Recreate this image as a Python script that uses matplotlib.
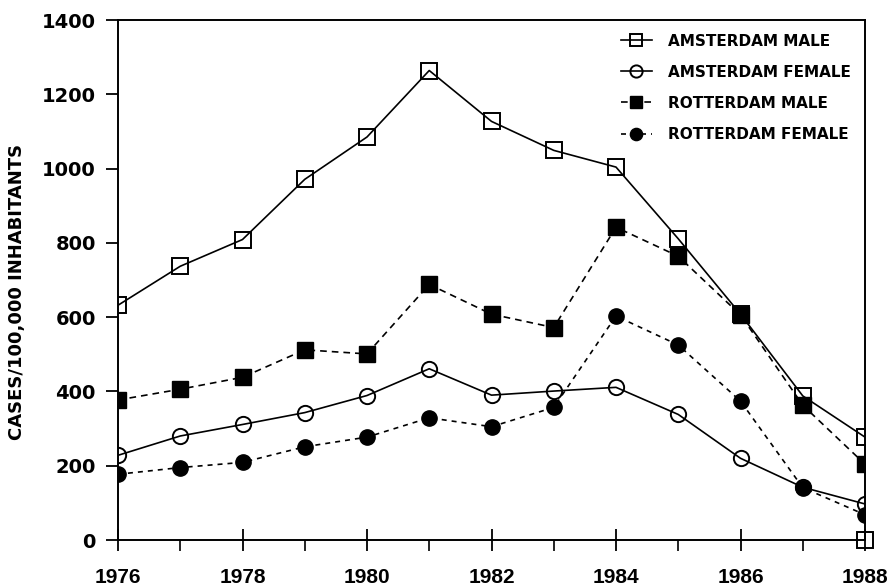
import matplotlib
matplotlib.use("Agg")
import matplotlib.pyplot as plt

years = [1976, 1977, 1978, 1979, 1980, 1981, 1982, 1983, 1984, 1985, 1986, 1987, 1988]
amsterdam_male = [632, 737, 809, 971, 1085, 1264, 1127, 1049, 1004, 811, 608, 388, 277]
amsterdam_female = [228, 280, 311, 343, 389, 461, 390, 401, 411, 338, 220, 142, 97]
rotterdam_male = [377, 406, 438, 512, 501, 688, 608, 572, 842, 764, 606, 363, 204]
rotterdam_female = [177, 195, 209, 251, 277, 329, 305, 357, 603, 525, 374, 141, 68]
stray_x = [1988]
stray_y = [0]

xticks = [1976, 1978, 1980, 1982, 1984, 1986, 1988]
yticks = [0, 200, 400, 600, 800, 1000, 1200, 1400]
ylabel = "CASES/100,000 INHABITANTS"

plt.rcParams['font.family'] = ['DejaVu Sans']
plt.rcParams['font.weight'] = 'bold'

fig = plt.figure(figsize=(8.9, 5.88), dpi=100)
ax = fig.add_axes([118/890, 1-540/588, (865-118)/890, (540-20)/588])

ms = 11
ax.plot(years, amsterdam_male, color='black', lw=1.2, marker='s', ms=ms,
        mfc='none', mec='black', mew=1.4, label='AMSTERDAM MALE', zorder=3)
ax.plot(years, amsterdam_female, color='black', lw=1.2, marker='o', ms=ms,
        mfc='none', mec='black', mew=1.4, label='AMSTERDAM FEMALE', zorder=3)
ax.plot(years, rotterdam_male, color='black', lw=1.2, ls=(0, (4, 3)), marker='s', ms=ms,
        mfc='black', mec='black', label='ROTTERDAM MALE', zorder=4)
ax.plot(years, rotterdam_female, color='black', lw=1.2, ls=(0, (3, 3)), marker='o', ms=ms,
        mfc='black', mec='black', label='ROTTERDAM FEMALE', zorder=4)
ax.plot(stray_x, stray_y, ls='none', marker='s', ms=ms, mfc='none', mec='black',
        mew=1.4, clip_on=False, zorder=5)

ax.set_xlim(1976, 1988)
ax.set_ylim(0, 1400)
ax.set_xticks(xticks)
ax.set_xticks(years, minor=True)
ax.set_yticks(yticks)
ax.tick_params(axis='x', which='major', direction='inout', length=16, width=1.3,
               labelsize=15, pad=12)
ax.tick_params(axis='x', which='minor', direction='out', length=8, width=1.2)
ax.tick_params(axis='y', which='major', direction='out', length=9, width=1.3,
               labelsize=14, pad=7)
for lab in ax.get_xticklabels():
    lab.set_fontweight('bold')
    lab.set_family(['Liberation Sans', 'DejaVu Sans'])
for lab in ax.get_yticklabels():
    lab.set_fontweight('bold')
for s in ax.spines.values():
    s.set_linewidth(1.4)

ax.set_ylabel(ylabel, fontsize=13, fontweight='bold')
ax.yaxis.set_label_coords((26 - 118) / 747, (540 - 292) / 520)

leg = ax.legend(loc='upper right', frameon=False, fontsize=11, handlelength=2.0,
                labelspacing=1.05, borderaxespad=0.5, handletextpad=1.1, markerscale=0.8)
for t in leg.get_texts():
    t.set_fontweight('bold')

fig.savefig("out.png", dpi=100)
